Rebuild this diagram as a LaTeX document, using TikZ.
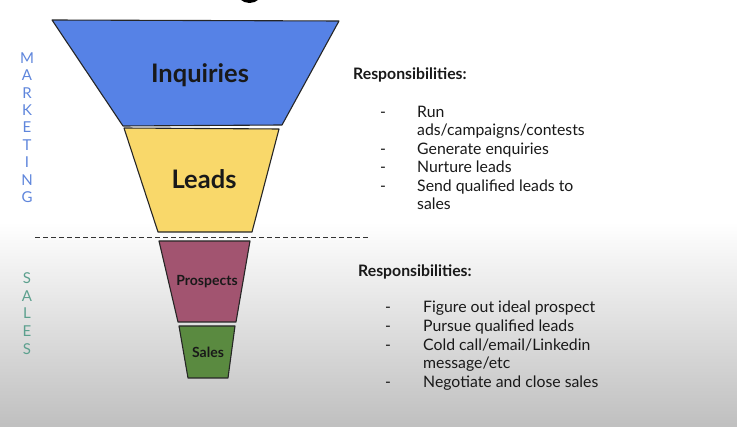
\documentclass[tikz,border=0pt]{standalone}
\usepackage{fontspec}
\setmainfont{Lato}
\usetikzlibrary{calc}
\definecolor{inqblue}{RGB}{86,130,230}
\definecolor{leadyel}{RGB}{249,216,106}
\definecolor{prospmag}{RGB}{162,84,112}
\definecolor{salegreen}{RGB}{90,138,64}
\definecolor{mktblue}{RGB}{95,134,220}
\definecolor{salesteal}{RGB}{92,160,142}
\definecolor{txt}{RGB}{25,25,25}
\begin{document}
\begin{tikzpicture}[x=1pt,y=-1pt,
  stage/.style={draw=black!85,line width=1.1pt,line join=round},
  biglabel/.style={font=\fontsize{25.5}{28}\selectfont\bfseries,text=txt,inner sep=0},
  smalllabel/.style={font=\fontsize{14}{16}\selectfont\bfseries,text=txt,inner sep=0},
  vletter/.style={font=\fontsize{15}{17}\selectfont,inner sep=0},
  head/.style={font=\fontsize{15.8}{18}\selectfont\bfseries,text=txt,inner sep=0,anchor=base west},
  item/.style={font=\fontsize{15.8}{18}\selectfont,text=txt,inner sep=0,anchor=base west},
  dashitem/.style={font=\fontsize{15.8}{18}\selectfont,text=txt,inner sep=0,anchor=base west}]
\useasboundingbox (0,0) rectangle (737,427);
% background
\fill[white] (0,0) rectangle (737,427);
\shade[top color=white,bottom color=black!25] (0,222) rectangle (737,427);
% cut-off title glyph at top
\begin{scope}
\clip (0,0) rectangle (737,427);
\fill[black] (249.5,-9) ellipse [x radius=13, y radius=12];
\end{scope}
% funnel
\draw[stage,fill=inqblue] (52,20) -- (339,21) -- (282,125) -- (123,126) -- cycle;
\draw[stage,fill=leadyel] (124,128) -- (279,129) -- (252,232) -- (158,232) -- cycle;
\draw[stage,fill=prospmag] (159,241) -- (250,241) -- (236,322) -- (178,322) -- cycle;
\draw[stage,fill=salegreen] (179,326) -- (235,326) -- (228,378) -- (188,378) -- cycle;
\node[biglabel] (inq) at (200,75) {Inquiries};
\node[biglabel] (leads) at (204,179) {Leads};
\node[smalllabel] (pros) at (207,282) {Prospects};
\node[smalllabel] (sales) at (208,352) {Sales};
% divider
\coordinate (dl) at (35,237);
\coordinate (dr) at (368,237);
\draw[dashed,black!80,line width=0.9pt,dash pattern=on 5pt off 3pt] (dl) -- (dr);
% vertical labels
\foreach \l [count=\i from 0] in {M,A,R,K,E,T,I,N,G}
  \node[vletter,text=mktblue] (mk\i) at (27,{58+17.4*\i}) {\l};
\foreach \l [count=\i from 0] in {S,A,L,E,S}
  \node[vletter,text=salesteal] (sl\i) at (27,{278+17.7*\i}) {\l};
% marketing responsibilities
\node[head] (h1) at (353,79.5) {Responsibilities:};
\node[dashitem] (d1a) at (380,117.5) {-};
\node[item] (t1a) at (417,117.5) {Run};
\node[item] (t1b) at (417,136) {ads/campaigns/contests};
\node[dashitem] (d1c) at (380,154.5) {-};
\node[item] (t1c) at (417,154.5) {Generate enquiries};
\node[dashitem] (d1d) at (380,173) {-};
\node[item] (t1d) at (417,173) {Nurture leads};
\node[dashitem] (d1e) at (380,191.5) {-};
\node[item] (t1e) at (417,191.5) {Send qualified leads to};
\node[item] (t1f) at (417,210) {sales};
% sales responsibilities
\node[head] (h2) at (358,276.5) {Responsibilities:};
\node[dashitem] (d2a) at (385,312.5) {-};
\node[item] (t2a) at (423,312.5) {Figure out ideal prospect};
\node[dashitem] (d2b) at (385,331.5) {-};
\node[item] (t2b) at (423,331.5) {Pursue qualified leads};
\node[dashitem] (d2c) at (385,350.5) {-};
\node[item] (t2c) at (423,350.5) {Cold call/email/Linkedin};
\node[item] (t2d) at (423,369) {message/etc};
\node[dashitem] (d2e) at (385,387.5) {-};
\node[item] (t2e) at (423,387.5) {Negotiate and close sales};
\end{tikzpicture}
\end{document}
